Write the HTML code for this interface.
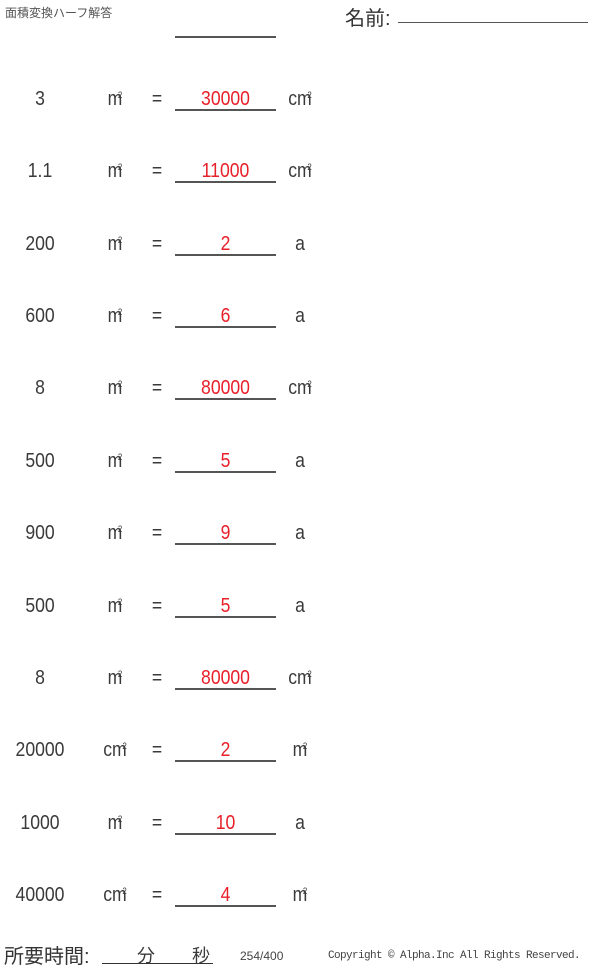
<!DOCTYPE html>
<html><head><meta charset="utf-8"><style>
body{margin:0;width:600px;height:967px;background:#fff;position:relative;overflow:hidden;font-family:"Liberation Sans","Noto Sans CJK JP",sans-serif;color:#3a3a3a}
.t{position:absolute;height:24px;line-height:24px;font-size:20px;text-align:center;white-space:nowrap;transform:scaleX(0.88)}
.r{color:#e8202a}
.u{position:absolute;left:175px;width:101px;height:0;border-top:2px solid #555}
sup{font-size:9px;vertical-align:top;position:relative;top:-4px;margin-left:-5px}
</style></head><body>
<div style="position:absolute;left:5px;top:4px;font-size:12px;color:#555">面積変換ハーフ解答</div>
<div style="position:absolute;left:345px;top:2px;font-size:20px;color:#333">名前:</div>
<div style="position:absolute;left:398px;top:22px;width:190px;border-top:1px solid #555"></div>
<div class="u" style="top:36px"></div>

<div class="t" style="left:0;width:80px;top:87px">3</div><div class="t" style="left:95px;width:40px;top:87px">m<sup>2</sup></div><div class="t" style="left:145px;width:24px;top:87px">=</div><div class="t r" style="left:175px;width:101px;top:87px">30000</div><div class="t" style="left:280px;width:40px;top:87px">cm<sup>2</sup></div><div class="u" style="top:109px"></div>
<div class="t" style="left:0;width:80px;top:159px">1.1</div><div class="t" style="left:95px;width:40px;top:159px">m<sup>2</sup></div><div class="t" style="left:145px;width:24px;top:159px">=</div><div class="t r" style="left:175px;width:101px;top:159px">11000</div><div class="t" style="left:280px;width:40px;top:159px">cm<sup>2</sup></div><div class="u" style="top:181px"></div>
<div class="t" style="left:0;width:80px;top:232px">200</div><div class="t" style="left:95px;width:40px;top:232px">m<sup>2</sup></div><div class="t" style="left:145px;width:24px;top:232px">=</div><div class="t r" style="left:175px;width:101px;top:232px">2</div><div class="t" style="left:280px;width:40px;top:232px">a</div><div class="u" style="top:254px"></div>
<div class="t" style="left:0;width:80px;top:304px">600</div><div class="t" style="left:95px;width:40px;top:304px">m<sup>2</sup></div><div class="t" style="left:145px;width:24px;top:304px">=</div><div class="t r" style="left:175px;width:101px;top:304px">6</div><div class="t" style="left:280px;width:40px;top:304px">a</div><div class="u" style="top:326px"></div>
<div class="t" style="left:0;width:80px;top:376px">8</div><div class="t" style="left:95px;width:40px;top:376px">m<sup>2</sup></div><div class="t" style="left:145px;width:24px;top:376px">=</div><div class="t r" style="left:175px;width:101px;top:376px">80000</div><div class="t" style="left:280px;width:40px;top:376px">cm<sup>2</sup></div><div class="u" style="top:398px"></div>
<div class="t" style="left:0;width:80px;top:449px">500</div><div class="t" style="left:95px;width:40px;top:449px">m<sup>2</sup></div><div class="t" style="left:145px;width:24px;top:449px">=</div><div class="t r" style="left:175px;width:101px;top:449px">5</div><div class="t" style="left:280px;width:40px;top:449px">a</div><div class="u" style="top:471px"></div>
<div class="t" style="left:0;width:80px;top:521px">900</div><div class="t" style="left:95px;width:40px;top:521px">m<sup>2</sup></div><div class="t" style="left:145px;width:24px;top:521px">=</div><div class="t r" style="left:175px;width:101px;top:521px">9</div><div class="t" style="left:280px;width:40px;top:521px">a</div><div class="u" style="top:543px"></div>
<div class="t" style="left:0;width:80px;top:594px">500</div><div class="t" style="left:95px;width:40px;top:594px">m<sup>2</sup></div><div class="t" style="left:145px;width:24px;top:594px">=</div><div class="t r" style="left:175px;width:101px;top:594px">5</div><div class="t" style="left:280px;width:40px;top:594px">a</div><div class="u" style="top:616px"></div>
<div class="t" style="left:0;width:80px;top:666px">8</div><div class="t" style="left:95px;width:40px;top:666px">m<sup>2</sup></div><div class="t" style="left:145px;width:24px;top:666px">=</div><div class="t r" style="left:175px;width:101px;top:666px">80000</div><div class="t" style="left:280px;width:40px;top:666px">cm<sup>2</sup></div><div class="u" style="top:688px"></div>
<div class="t" style="left:0;width:80px;top:738px">20000</div><div class="t" style="left:95px;width:40px;top:738px">cm<sup>2</sup></div><div class="t" style="left:145px;width:24px;top:738px">=</div><div class="t r" style="left:175px;width:101px;top:738px">2</div><div class="t" style="left:280px;width:40px;top:738px">m<sup>2</sup></div><div class="u" style="top:760px"></div>
<div class="t" style="left:0;width:80px;top:811px">1000</div><div class="t" style="left:95px;width:40px;top:811px">m<sup>2</sup></div><div class="t" style="left:145px;width:24px;top:811px">=</div><div class="t r" style="left:175px;width:101px;top:811px">10</div><div class="t" style="left:280px;width:40px;top:811px">a</div><div class="u" style="top:833px"></div>
<div class="t" style="left:0;width:80px;top:883px">40000</div><div class="t" style="left:95px;width:40px;top:883px">cm<sup>2</sup></div><div class="t" style="left:145px;width:24px;top:883px">=</div><div class="t r" style="left:175px;width:101px;top:883px">4</div><div class="t" style="left:280px;width:40px;top:883px">m<sup>2</sup></div><div class="u" style="top:905px"></div>

<div style="position:absolute;left:4px;top:940px;font-size:20px;color:#333">所要時間:</div>
<div style="position:absolute;left:137px;top:942px;font-size:18px">分</div>
<div style="position:absolute;left:192px;top:942px;font-size:18px">秒</div>
<div style="position:absolute;left:102px;top:963px;width:111px;border-top:1px solid #333"></div>
<div style="position:absolute;left:240px;top:949px;font-size:12px;color:#444">254/400</div>
<div style="position:absolute;left:328px;top:950px;font-size:11px;color:#444;font-family:'Liberation Mono',monospace;letter-spacing:-0.6px">Copyright © Alpha.Inc All Rights Reserved.</div>
</body></html>
